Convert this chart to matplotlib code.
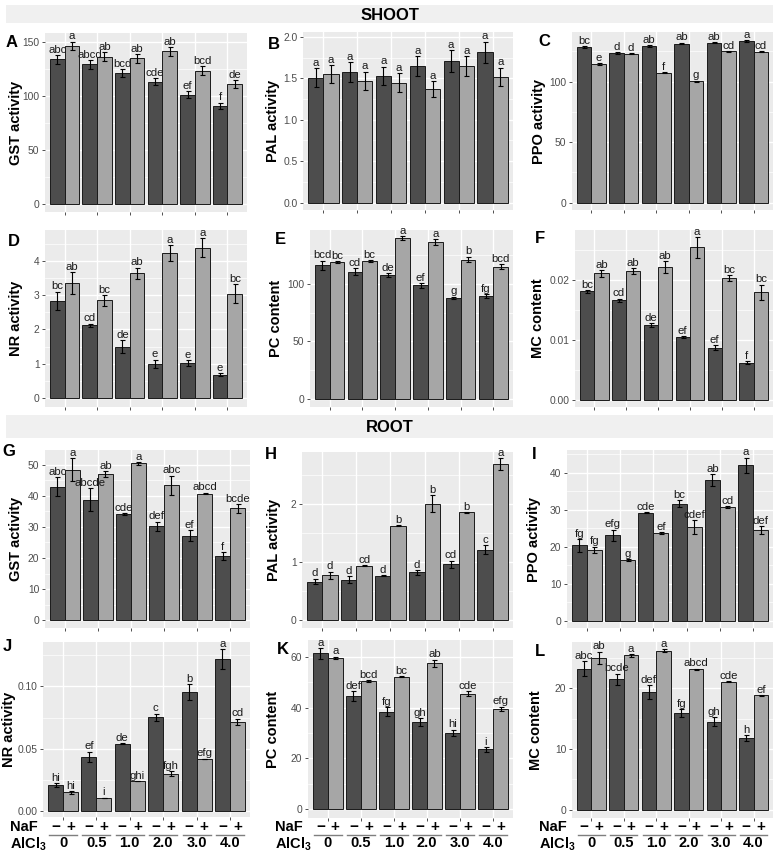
import numpy as np
import matplotlib.pyplot as plt
from matplotlib.patches import Rectangle
from matplotlib.ticker import MultipleLocator
from matplotlib.transforms import blended_transform_factory

plt.rcParams['font.family'] = ['Liberation Sans', 'DejaVu Sans']
plt.rcParams['mathtext.fontset'] = 'custom'
plt.rcParams['mathtext.bf'] = 'Liberation Sans:bold'
plt.rcParams['mathtext.rm'] = 'Liberation Sans'

# AlCl3 levels and NaF treatment (-/+), values ordered (-NaF, +NaF) per level
alcl3_levels = ['0', '0.5', '1.0', '2.0', '3.0', '4.0']
naf_signs = ['\u2212', '+']

# ---- SHOOT ----
gst_shoot = [133.5, 146, 129, 136, 121, 134.5, 113, 141, 101, 123, 90.4, 111]
gst_shoot_se = [4, 4, 4, 4, 3.5, 4, 3.5, 4, 3, 4, 3, 3.5]
gst_shoot_sig = ['abc', 'a', 'abcd', 'ab', 'bcd', 'ab', 'cde', 'ab', 'ef', 'bcd', 'f', 'de']

pal_shoot = [1.51, 1.55, 1.575, 1.47, 1.53, 1.45, 1.65, 1.37, 1.71, 1.65, 1.815, 1.52]
pal_shoot_se = [0.11, 0.11, 0.12, 0.11, 0.11, 0.11, 0.12, 0.10, 0.13, 0.12, 0.13, 0.11]
pal_shoot_sig = ['a'] * 12

ppo_shoot = [128.5, 114.4, 123.5, 123.2, 129.3, 107.5, 131.5, 100.5, 132.3, 124.9, 133.4, 124.6]
ppo_shoot_se = [0.6, 0.6, 0.6, 0.6, 0.6, 0.5, 0.6, 0.4, 0.6, 0.5, 0.6, 0.5]
ppo_shoot_sig = ['bc', 'e', 'd', 'd', 'ab', 'f', 'ab', 'g', 'ab', 'cd', 'a', 'cd']

nr_shoot = [2.84, 3.36, 2.12, 2.85, 1.50, 3.64, 1.00, 4.24, 1.02, 4.39, 0.675, 3.05]
nr_shoot_se = [0.27, 0.31, 0.05, 0.16, 0.19, 0.17, 0.12, 0.23, 0.09, 0.28, 0.05, 0.28]
nr_shoot_sig = ['bc', 'ab', 'cd', 'bc', 'de', 'ab', 'e', 'a', 'e', 'a', 'e', 'bc']

pc_shoot = [116.3, 119, 110.8, 119.8, 107.9, 140, 98.8, 136.4, 87.8, 121.3, 89.5, 115.2]
pc_shoot_se = [4, 1, 3.3, 1, 1.5, 1.5, 2, 2.5, 1.2, 2.5, 2, 2]
pc_shoot_sig = ['bcd', 'bc', 'cd', 'bc', 'de', 'a', 'ef', 'a', 'g', 'b', 'fg', 'bcd']

mc_shoot = [0.01806, 0.02106, 0.01656, 0.0215, 0.0125, 0.0221, 0.01044, 0.0254, 0.0087, 0.0203, 0.0062, 0.0179]
mc_shoot_se = [0.0002, 0.0006, 0.0003, 0.0005, 0.0003, 0.001, 0.0002, 0.0017, 0.0004, 0.0005, 0.0003, 0.0013]
mc_shoot_sig = ['bc', 'ab', 'cd', 'ab', 'de', 'ab', 'ef', 'a', 'ef', 'bc', 'f', 'bc']

# ---- ROOT ----
gst_root = [42.9, 48.3, 38.7, 46.9, 34.0, 50.4, 30.2, 43.3, 27.2, 40.7, 20.7, 36.0]
gst_root_se = [3.1, 3.7, 3.7, 1.0, 0.3, 0.4, 1.5, 3.2, 1.8, 0.3, 1.2, 1.4]
gst_root_sig = ['abc', 'a', 'abcde', 'ab', 'cde', 'a', 'def', 'abc', 'ef', 'abcd', 'f', 'bcde']

pal_root = [0.66, 0.77, 0.69, 0.93, 0.76, 1.62, 0.82, 2.0, 0.96, 1.85, 1.21, 2.68]
pal_root_se = [0.05, 0.06, 0.06, 0.01, 0.01, 0.01, 0.04, 0.15, 0.06, 0.01, 0.08, 0.10]
pal_root_sig = ['d', 'd', 'd', 'cd', 'd', 'b', 'd', 'b', 'cd', 'b', 'c', 'a']

ppo_root = [20.3, 19.1, 23.0, 16.4, 29.2, 23.7, 31.6, 25.3, 38.0, 30.6, 42.0, 24.5]
ppo_root_se = [1.8, 0.9, 1.6, 0.3, 0.2, 0.2, 1.0, 1.9, 1.5, 0.3, 2.0, 1.0]
ppo_root_sig = ['fg', 'fg', 'efg', 'g', 'cde', 'ef', 'bc', 'cdef', 'ab', 'cd', 'a', 'def']

nr_root = [0.0213, 0.0152, 0.0435, 0.0109, 0.0541, 0.0243, 0.0752, 0.0301, 0.0955, 0.0419, 0.122, 0.0717]
nr_root_se = [0.0015, 0.001, 0.0043, 0.0, 0.0003, 0.0, 0.003, 0.002, 0.0063, 0.0002, 0.0078, 0.0025]
nr_root_sig = ['hi', 'hi', 'ef', 'i', 'de', 'ghi', 'c', 'fgh', 'b', 'efg', 'a', 'cd']

pc_root = [61.3, 59.6, 44.5, 50.5, 38.4, 52.2, 34.4, 57.4, 30.1, 45.4, 23.5, 39.6]
pc_root_se = [2.0, 0.4, 2.0, 0.3, 1.8, 0.3, 1.5, 1.5, 1.2, 1.0, 1.0, 0.8]
pc_root_sig = ['a', 'a', 'def', 'bcd', 'fg', 'bc', 'gh', 'ab', 'hi', 'cde', 'i', 'efg']

mc_root = [23.2, 25.0, 21.5, 25.4, 19.4, 26.2, 15.9, 23.1, 14.5, 21.1, 11.8, 18.8]
mc_root_se = [1.2, 1.0, 0.9, 0.2, 1.1, 0.2, 0.7, 0.1, 0.7, 0.1, 0.5, 0.1]
mc_root_sig = ['abc', 'ab', 'bcde', 'a', 'def', 'a', 'fg', 'abcd', 'gh', 'cde', 'h', 'ef']

W, H = 777, 852
fig = plt.figure(figsize=(W / 100, H / 100), dpi=100)
fig.patch.set_facecolor('white')


def box(x0, y0, x1, y1):
    return [x0 / W, 1 - y1 / H, (x1 - x0) / W, (y1 - y0) / H]


# letter, ylabel, data, se, sig, panel box (px), ylim, tick step, fmt, ylabel x (px), letter pos (px)
panels = [
    ('A', 'GST activity', gst_shoot, gst_shoot_se, gst_shoot_sig, (45, 33, 247, 212), (-7.8, 158), 50, '{:.0f}', 23, (6, 35)),
    ('B', 'PAL activity', pal_shoot, pal_shoot_se, pal_shoot_sig, (303, 32, 513, 210), (-0.09, 2.06), 0.5, '{:.1f}', 280, (268, 37)),
    ('C', 'PPO activity', ppo_shoot, ppo_shoot_se, ppo_shoot_sig, (572, 32, 773, 210), (-6, 141), 50, '{:.0f}', 546, (538, 34)),
    ('D', 'NR activity', nr_shoot, nr_shoot_se, nr_shoot_sig, (45, 230, 247, 407), (-0.27, 4.91), 1, '{:.0f}', 23, (8, 234)),
    ('E', 'PC content', pc_shoot, pc_shoot_se, pc_shoot_sig, (310, 230, 513, 407), (-7, 147), 50, '{:.0f}', 283, (275, 232)),
    ('F', 'MC content', mc_shoot, mc_shoot_se, mc_shoot_sig, (575, 230, 773, 407), (-0.0012, 0.0283), 0.01, '{:.2f}', 545, (535, 231)),
    ('G', 'GST activity', gst_root, gst_root_se, gst_root_sig, (45, 450, 250, 628), (-2.5, 54.7), 10, '{:.0f}', 23, (2, 444)),
    ('H', 'PAL activity', pal_root, pal_root_se, pal_root_sig, (302, 452, 513, 628), (-0.14, 2.89), 1, '{:.0f}', 281, (265, 447)),
    ('I', 'PPO activity', ppo_root, ppo_root_se, ppo_root_sig, (567, 450, 773, 628), (-2, 46.1), 10, '{:.0f}', 541, (532, 447)),
    ('J', 'NR activity', nr_root, nr_root_se, nr_root_sig, (43, 642, 250, 817), (-0.0045, 0.1355), 0.05, '{:.2f}', 16, (3, 639)),
    ('K', 'PC content', pc_root, pc_root_se, pc_root_sig, (308, 640, 513, 818), (-3.5, 66.6), 20, '{:.0f}', 280, (277, 642)),
    ('L', 'MC content', mc_root, mc_root_se, mc_root_sig, (572, 642, 773, 818), (-1.35, 27.6), 10, '{:.0f}', 543, (535, 644)),
]

bar_cols = ['#4D4D4D', '#A6A6A6']
x = np.arange(1, 7)
bw = 0.45

for letter, ylab, vals, se, sig, bx, ylim, step, fmt, labx, lpos in panels:
    ax = fig.add_axes(box(*bx))
    ax.set_facecolor('#EBEBEB')
    for s in ax.spines.values():
        s.set_visible(False)
    for k in range(2):
        xs = x + (k - 0.5) * bw
        m = np.array(vals[k::2])
        e = np.array(se[k::2])
        ax.bar(xs, m, bw, color=bar_cols[k], edgecolor='#1A1A1A', linewidth=0.7, zorder=3)
        ax.errorbar(xs, m, yerr=e, fmt='none', ecolor='black', elinewidth=0.8,
                    capsize=1.8, capthick=0.8, zorder=4)
        for xi, mi, ei, lab in zip(xs, m, e, sig[k::2]):
            ax.annotate(lab, (xi, mi + ei), xytext=(0, 0.2), textcoords='offset points',
                        ha='center', va='bottom', fontsize=8.2, color='#1A1A1A', zorder=5)
    ax.set_xlim(0.4, 6.6)
    ax.set_ylim(*ylim)
    ticks = np.arange(0, ylim[1], step)
    ax.set_yticks(ticks)
    ax.set_yticklabels([fmt.format(t) for t in ticks])
    ax.yaxis.set_minor_locator(MultipleLocator(step / 2))
    ax.set_xticks(x)
    ax.set_xticklabels([''] * 6)
    ax.set_axisbelow(True)
    ax.grid(which='major', color='white', linewidth=1.0)
    ax.grid(which='minor', axis='y', color='white', linewidth=0.5)
    ax.tick_params(which='major', length=2.5, width=0.6, color='#333333',
                   labelsize=7.4, labelcolor='#4D4D4D', pad=1.5)
    ax.tick_params(which='minor', length=0)
    ax.set_ylabel(ylab, fontsize=10.5, fontweight='bold')
    ax.yaxis.set_label_coords((labx - bx[0]) / (bx[2] - bx[0]), 0.5)
    fig.text(lpos[0] / W, 1 - lpos[1] / H, letter, fontsize=12, fontweight='bold',
             ha='left', va='top')

    # treatment annotation under bottom row
    if letter in ('J', 'K', 'L'):
        tr = blended_transform_factory(ax.transData, fig.transFigure)
        for i in x:
            for k in range(2):
                ax.text(i + (k - 0.5) * bw, 1 - 827 / H, naf_signs[k], transform=tr,
                        ha='center', va='center', fontsize=11, fontweight='bold')
            ax.plot([i - 0.42, i + 0.42], [1 - 835 / H] * 2, transform=tr, color='#7F7F7F',
                    linewidth=1.0, clip_on=False)
            ax.text(i, 1 - 843 / H, alcl3_levels[i - 1], transform=tr, ha='center', va='center',
                    fontsize=10.5, fontweight='bold')
        left = bx[0] - 33
        fig.text(left / W, 1 - 827 / H, 'NaF', fontsize=10.5, fontweight='bold', ha='left', va='center')
        fig.text(left / W, 1 - 844 / H, r'$\mathbf{AlCl_3}$', fontsize=10.5, ha='left', va='center')

# strip headers
for y0, y1, title in [(5, 23, 'SHOOT'), (415, 438, 'ROOT')]:
    fig.add_artist(Rectangle((6 / W, 1 - y1 / H), 767 / W, (y1 - y0) / H,
                             transform=fig.transFigure, facecolor='#F0F0F0', edgecolor='none'))
    fig.text(390 / W, 1 - ((y0 + y1) / 2 + 1) / H, title, fontsize=12, fontweight='bold',
             ha='center', va='center')

fig.savefig('out.png', dpi=100)
